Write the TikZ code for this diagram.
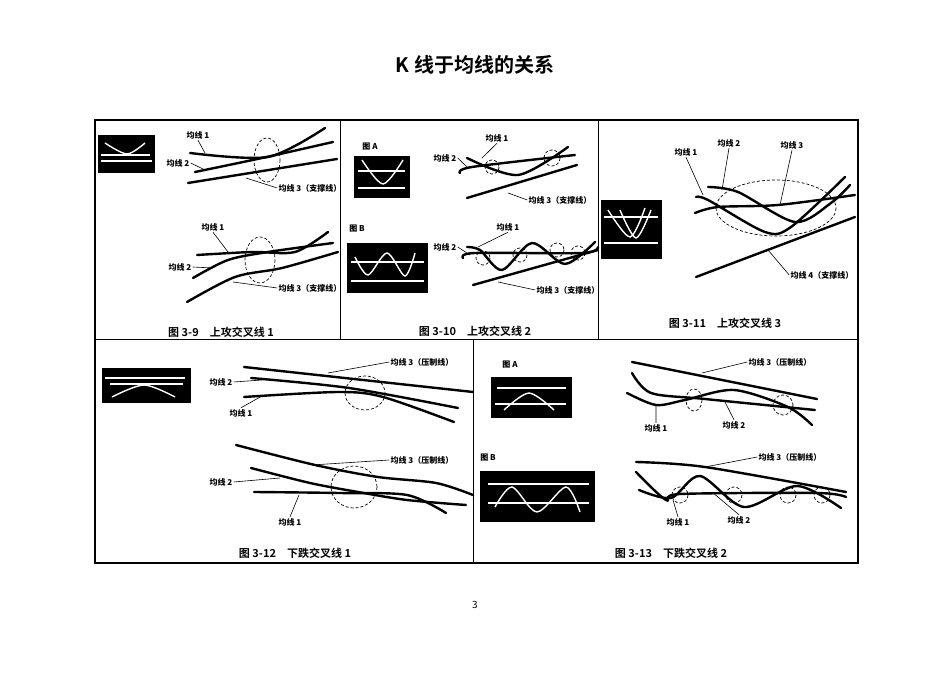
\documentclass[tikz,border=0pt]{standalone}
\usepackage{fontspec}
\setmainfont{Noto Sans CJK SC}
\newfontfamily\cjkb{Noto Sans CJK SC Bold}
\begin{document}
\begin{tikzpicture}[x=0.5pt,y=-0.5pt,
  ma/.style={line width=1.2pt,line cap=round},
  wl/.style={white,line width=0.7pt},
  dsh/.style={dashed,line width=0.35pt,dash pattern=on 1.5pt off 1pt},
  ld/.style={line width=0.3pt},
  lb/.style={font=\fontsize{4}{4}\selectfont\bfseries,inner sep=0.5pt},
  captext/.style={font=\cjkb\fontsize{5.5}{6}\selectfont,inner sep=0pt},
  bx/.style={fill=black}]
\useasboundingbox (0,0) rectangle (950,673);
\node[font=\cjkb\fontsize{10}{10}\selectfont] (title) at (475,65) {K 线于均线的关系};
\node[font=\fontsize{5}{5}\selectfont] (pg) at (475,605) {3};
% frames
\draw[line width=0.6pt] (95,120) rectangle (858,563);
\draw[line width=0.5pt] (95,340) -- (858,340) (340,120) -- (340,340) (598,120) -- (598,340) (473,340) -- (473,563);
% ===== panel 1
\fill[bx] (98,135) rectangle (155,173);
\draw[wl] (101,155) -- (150,155) (101,161) -- (152,161);
\draw[wl] plot[smooth] coordinates {(105,143) (127,154) (145,143)};
\draw[ma] plot[smooth] coordinates {(190,153) (268,157) (325,128)};
\draw[ma] plot[smooth] coordinates {(195,172) (262,158) (333,142)};
\draw[ma] plot[smooth] coordinates {(188,183) (337,159)};
\draw[dsh] (267,160) ellipse [x radius=13,y radius=22];
\node[lb] (a1) at (198,135) {均线 1};
\node[lb] (a2) at (178,163) {均线 2};
\node[lb] (a3) at (310,188) {均线 3（支撑线）};
\draw[ld] (a1.south) -- (205,153) (a2.east) -- (205,170) (a3.west) -- (246,178);
\draw[ma] plot[smooth] coordinates {(197,255) (252,252) (295,252) (328,232)};
\draw[ma] plot[smooth] coordinates {(193,278) (228,260) (268,252) (333,243)};
\draw[ma] plot[smooth] coordinates {(187,302) (235,277) (282,268) (338,252)};
\draw[dsh] (260,260) ellipse [x radius=15,y radius=23];
\node[lb] (b1) at (213,227) {均线 1};
\node[lb] (b2) at (180,267) {均线 2};
\node[lb] (b3) at (310,288) {均线 3（支撑线）};
\draw[ld] (b1.south) -- (228,252) (b2.east) -- (213,268) (b3.west) -- (233,282);
\node[captext] (c1) at (221,332) {图 3-9\quad 上攻交叉线 1};
% ===== panel 2
\node[lb] (pA) at (370,147) {图 A};
\fill[bx] (354,156) rectangle (410,198);
\draw[wl] (358,171) -- (405,171) (358,188) -- (405,188);
\draw[wl] plot[smooth] coordinates {(362,160) (383,184) (403,160)};
\draw[ma] plot[smooth] coordinates {(467,158) (518,175) (568,147)};
\draw[ma] plot[smooth] coordinates {(460,173) (472,167) (575,155)};
\draw[ma] plot[smooth] coordinates {(467,198) (577,165)};
\draw[dsh] (492,167) circle (7) (552,158) circle (8);
\node[lb] (d1) at (497,138) {均线 1};
\node[lb] (d2) at (445,158) {均线 2};
\node[lb] (d3) at (560,200) {均线 3（支撑线）};
\draw[ld] (d1.south) -- (482,158) (d2.east) -- (468,168) (d3.west) -- (508,193);
\node[lb] (pB) at (357,229) {图 B};
\fill[bx] (347,243) rectangle (428,293);
\draw[wl] (351,262) -- (424,262) (351,281) -- (424,281);
\draw[wl] plot[smooth] coordinates {(355,257) (368,275) (387,253) (405,276) (415,253)};
\draw[ma] plot[smooth] coordinates {(467,247) (480,250) (502,270) (532,243) (565,264) (595,242)};
\draw[ma] plot[smooth] coordinates {(463,258) (475,253) (582,253) (598,247)};
\draw[ma] plot[smooth] coordinates {(473,285) (598,250)};
\draw[dsh] (483,258) circle (7) (520,255) circle (7) (557,250) circle (7) (578,253) circle (7);
\node[lb] (e1) at (508,227) {均线 1};
\node[lb] (e2) at (445,247) {均线 2};
\node[lb] (e3) at (568,290) {均线 3（支撑线）};
\draw[ld] (e1.south) -- (478,247) (e2.east) -- (470,255) (e3.west) -- (498,282);
\node[captext] (c2) at (475,331) {图 3-10\quad 上攻交叉线 2};
% ===== panel 3
\fill[bx] (601,200) rectangle (662,259);
\draw[wl] (604,217) -- (658,217) (604,243) -- (658,243);
\draw[wl] plot[smooth] coordinates {(608,210) (630,237) (645,208)};
\draw[wl] plot[smooth] coordinates {(620,210) (636,238) (651,210)};
\draw[ma] plot[smooth] coordinates {(696,197) (708,200) (765,232) (791,227) (845,177)};
\draw[ma] plot[smooth] coordinates {(708,187) (738,192) (795,222) (831,203) (850,185)};
\draw[ma] plot[smooth] coordinates {(695,213) (718,207) (778,205) (855,195)};
\draw[ma] plot[smooth] coordinates {(696,277) (855,217)};
\draw[dsh] (776,208) ellipse [x radius=60,y radius=28];
\node[lb] (f1) at (686,152) {均线 1};
\node[lb] (f2) at (729,143) {均线 2};
\node[lb] (f3) at (792,145) {均线 3};
\node[lb] (f4) at (822,275) {均线 4（支撑线）};
\draw[ld] (f1.south) -- (703,195) (f2.south) -- (722,190) (f3.south) -- (780,205) (f4.west) -- (768,250);
\node[captext] (c3) at (725,323) {图 3-11\quad 上攻交叉线 3};
% ===== panel 4
\fill[bx] (102,368) rectangle (191,403);
\draw[wl] (105,378) -- (185,378) (110,384) -- (183,384);
\draw[wl] plot[smooth] coordinates {(112,397) (144,385) (175,397)};
\draw[ma] plot[smooth] coordinates {(244,367) (473,392)};
\draw[ma] plot[smooth] coordinates {(251,378) (349,388) (458,408)};
\draw[ma] plot[smooth] coordinates {(244,397) (339,392) (383,397) (454,422)};
\draw[dsh] (365,393) ellipse [x radius=20,y radius=17];
\node[lb] (g3) at (422,362) {均线 3（压制线）};
\node[lb] (g2) at (221,382) {均线 2};
\node[lb] (g1) at (241,413) {均线 1};
\draw[ld] (g3.west) -- (328,373) (g2.east) -- (262,380) (g1.north) -- (262,396);
\draw[ma] plot[smooth] coordinates {(236,445) (315,465) (378,477) (436,483) (473,495)};
\draw[ma] plot[smooth] coordinates {(251,468) (310,483) (358,492) (407,500) (466,505)};
\draw[ma] plot[smooth] coordinates {(254,492) (339,493) (407,495) (446,513)};
\draw[dsh] (354,487) ellipse [x radius=23,y radius=21];
\node[lb] (h3) at (422,460) {均线 3（压制线）};
\node[lb] (h2) at (221,482) {均线 2};
\node[lb] (h1) at (290,522) {均线 1};
\draw[ld] (h3.west) -- (312,465) (h2.east) -- (280,478) (h1.north) -- (299,495);
\node[captext] (c4) at (295,553) {图 3-12\quad 下跌交叉线 1};
% ===== panel 5
\node[lb] (qA) at (510,365) {图 A};
\fill[bx] (491,377) rectangle (572,418);
\draw[wl] (497,388) -- (566,388) (495,404) -- (566,404);
\draw[wl] plot[smooth] coordinates {(504,410) (529,393) (554,410)};
\draw[ma] plot[smooth] coordinates {(632,362) (817,399)};
\draw[ma] plot[smooth] coordinates {(627,393) (656,405) (685,400) (734,390) (788,407) (812,425)};
\draw[ma] plot[smooth] coordinates {(632,373) (651,393) (705,399) (815,410)};
\draw[dsh] (694,400) ellipse [x radius=8,y radius=11] (783,405) ellipse [x radius=10,y radius=10];
\node[lb] (k3) at (780,362) {均线 3（压制线）};
\node[lb] (k1) at (656,428) {均线 1};
\node[lb] (k2) at (734,425) {均线 2};
\draw[ld] (k3.west) -- (702,373) (k1.north) -- (656,406) (k2.north) -- (725,402);
\node[lb] (qB) at (488,458) {图 B};
\fill[bx] (480,471) rectangle (595,522);
\draw[wl] (488,484) -- (589,484) (488,503) -- (589,503);
\draw[wl] plot[smooth] coordinates {(495,507) (512,487) (537,512) (566,487) (580,512)};
\draw[ma] plot[smooth] coordinates {(636,462) (705,467) (846,492)};
\draw[ma] plot[smooth] coordinates {(636,472) (666,500) (680,494) (817,493) (846,497)};
\draw[ma] plot[smooth] coordinates {(639,490) (671,498) (700,476) (744,507) (797,486) (841,508)};
\draw[dsh] (680,495) circle (8) (734,495) circle (8) (788,495) circle (8) (822,495) circle (8);
\node[lb] (m3) at (790,457) {均线 3（压制线）};
\node[lb] (m1) at (678,522) {均线 1};
\node[lb] (m2) at (739,520) {均线 2};
\draw[ld] (m3.west) -- (705,467) (m1.north) -- (673,500) (m2.north) -- (712,492);
\node[captext] (c5) at (671,553) {图 3-13\quad 下跌交叉线 2};
\end{tikzpicture}
\end{document}
